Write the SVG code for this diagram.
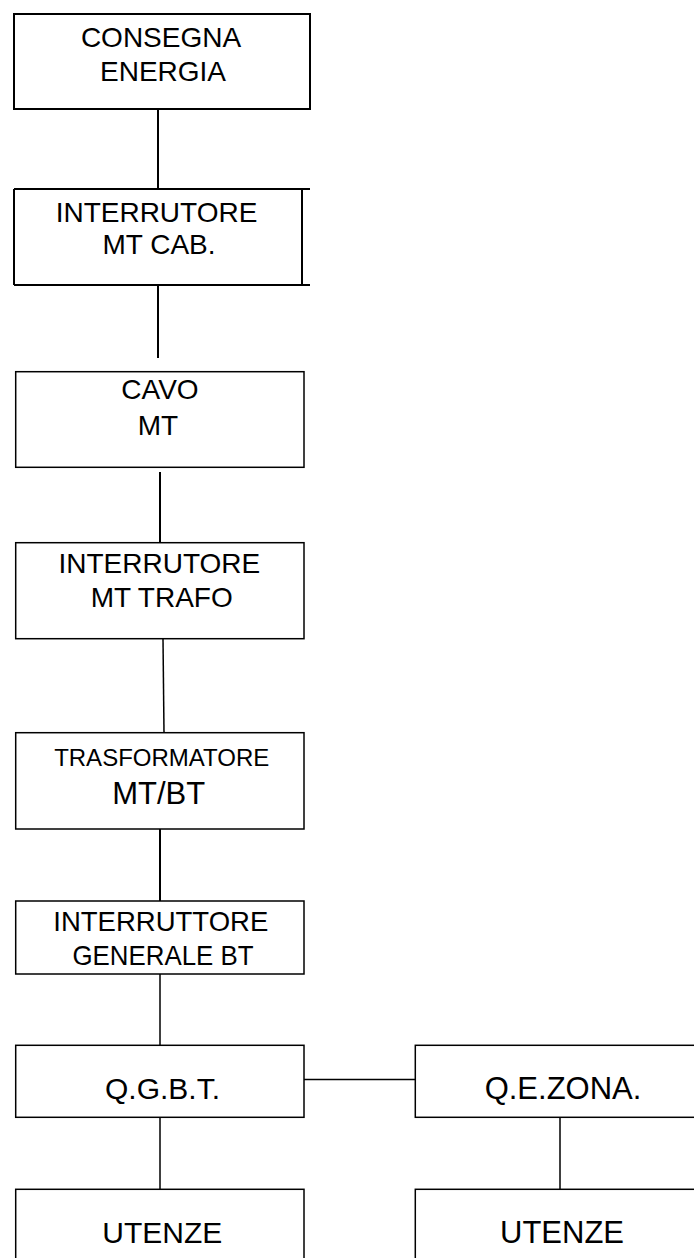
<svg xmlns="http://www.w3.org/2000/svg" width="694" height="1258" viewBox="0 0 694 1258">
<style>
.b{fill:#fff;stroke:#000;stroke-width:2}
.b2{fill:#fff;stroke:#000;stroke-width:1.5}
.l{stroke:#000;stroke-width:2;fill:none}
.l2{stroke:#000;stroke-width:1.5;fill:none}
text{font-family:"Liberation Sans",Arial,sans-serif;fill:#000;text-anchor:middle}
.t28{font-size:28px}
.t24{font-size:24px}
.t31{font-size:31px}
.t30{font-size:30px}
</style>
<rect width="694" height="1258" fill="#fff"/>
<g id="connectors">
<line class="l" x1="158" y1="109" x2="158" y2="189"/>
<line class="l" x1="158" y1="285" x2="158" y2="358"/>
<line class="l" x1="160" y1="472" x2="160" y2="543"/>
<line class="l2" x1="163" y1="639" x2="164" y2="733"/>
<line class="l" x1="160" y1="829" x2="160" y2="901"/>
<line class="l2" x1="160" y1="974" x2="160" y2="1045"/>
<line class="l2" x1="304" y1="1079.5" x2="415" y2="1079.5"/>
<line class="l2" x1="160" y1="1117" x2="160" y2="1189"/>
<line class="l2" x1="560" y1="1117" x2="560" y2="1189"/>
</g>
<g id="n1">
<rect class="b" x="14" y="14" width="296" height="95"/>
<text class="t28" x="161" y="46.5">CONSEGNA</text>
<text class="t28" x="163" y="80.5">ENERGIA</text>
</g>
<g id="n2">
<path class="b" d="M14 189H310M14 285H310M14 189V285M302 189V285" fill="none"/>
<text class="t28" x="156.5" y="221.5">INTERRUTORE</text>
<text class="t28" x="159" y="254">MT CAB.</text>
</g>
<g id="n3">
<rect class="b2" x="15.7" y="371.7" width="288.3" height="95.6"/>
<text class="t28" x="160" y="399.3">CAVO</text>
<text class="t28" x="158" y="435">MT</text>
</g>
<g id="n4">
<rect class="b2" x="15.7" y="542.7" width="288.3" height="96"/>
<text class="t28" x="159.3" y="573.3">INTERRUTORE</text>
<text class="t28" x="161.7" y="606.7">MT TRAFO</text>
</g>
<g id="n5">
<rect class="b2" x="15.7" y="732.7" width="288.3" height="96.3"/>
<text class="t24" x="161.7" y="765.7">TRASFORMATORE</text>
<text class="t31" x="158.7" y="804">MT/BT</text>
</g>
<g id="n6">
<rect class="b2" x="15.7" y="901" width="288.3" height="73"/>
<text class="t28" x="160.8" y="930.7" textLength="215" lengthAdjust="spacingAndGlyphs">INTERRUTTORE</text>
<text class="t28" x="163" y="965" textLength="181" lengthAdjust="spacingAndGlyphs">GENERALE BT</text>
</g>
<g id="n7">
<rect class="b2" x="15.7" y="1045.3" width="288.3" height="72"/>
<text class="t30" x="162.5" y="1099">Q.G.B.T.</text>
</g>
<g id="n8">
<rect class="b2" x="415.3" y="1045.3" width="300" height="72"/>
<text class="t31" x="563" y="1099">Q.E.ZONA.</text>
</g>
<g id="n9">
<rect class="b2" x="15.7" y="1189.3" width="288.3" height="100"/>
<text class="t30" x="162.3" y="1242.7">UTENZE</text>
</g>
<g id="n10">
<rect class="b2" x="415.3" y="1189.3" width="300" height="100"/>
<text class="t31" x="562" y="1242.7">UTENZE</text>
</g>
</svg>
